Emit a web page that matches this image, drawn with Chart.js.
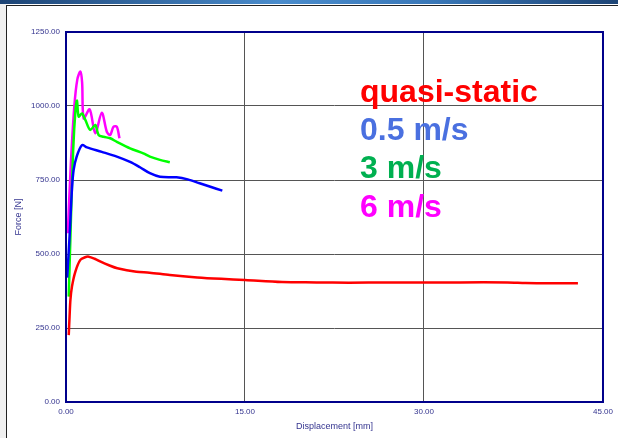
<!DOCTYPE html>
<html>
<head>
<meta charset="utf-8">
<script src="https://cdn.jsdelivr.net/npm/chart.js@4"></script>
<style>
  html, body { margin: 0; padding: 0; background: #fff; }
  #wrap { position: relative; width: 618px; height: 438px; overflow: hidden; background: #fff; }
  #topbar { position: absolute; left: 0; top: 0; width: 618px; height: 4px;
    background: linear-gradient(to right, #1d4475, #4a8ccc 45%, #3a78b8 70%, #1d4475); }
  #topline { position: absolute; left: 6px; top: 5px; width: 612px; height: 1px; background: #222; }
  #sidebar { position: absolute; left: 0; top: 4px; width: 6px; height: 434px; background: #f0f0f0; }
  #sideline { position: absolute; left: 6px; top: 5px; width: 1px; height: 433px; background: #222; }
  #chartBox { position: absolute; left: 0; top: 0; width: 618px; height: 438px; }
</style>
</head>
<body>
<div id="wrap">
  <div id="topbar"></div>
  <div id="sidebar"></div>
  <div id="topline"></div>
  <div id="sideline"></div>
  <div id="chartBox"><canvas id="chart"></canvas></div>
</div>
<script>
// displacement [mm] / force [N] for each loading rate
const qsDisp = [0.23, 0.3, 0.37, 0.5, 0.78, 1.2, 1.6, 1.9, 2.4, 2.9, 3.6, 4.3, 5.9, 7.0, 8.7, 11, 13, 15, 18.1, 21, 23.7, 27, 30, 33, 37, 38.5, 40.4, 42.9];
const qsForce = [226, 290, 345, 390, 440, 480, 489, 491, 484, 474, 462, 452, 440, 437, 429, 421, 416, 412, 405, 404, 403, 404, 404, 404, 404, 402, 401, 401];

const v05Disp = [0.1, 0.3, 0.5, 0.64, 0.9, 1.34, 1.76, 3.0, 4.26, 5.37, 6.2, 7.03, 7.87, 9.26, 10.2, 11.2, 12.1, 13.1];
const v05Force = [420, 560, 720, 784, 830, 868, 860, 845, 829, 811, 793, 773, 761, 759, 752, 739, 727, 714];

const v3Disp = [0.23, 0.4, 0.6, 0.8, 0.92, 1.06, 1.34, 1.62, 2.03, 2.45, 2.73, 3.14, 3.7, 4.26, 5.37, 6.48, 7.03, 7.87, 8.7];
const v3Force = [356, 600, 850, 990, 1018, 964, 975, 953, 919, 936, 902, 896, 891, 879, 857, 840, 829, 818, 810];

const v6Disp = [0.15, 0.4, 0.7, 0.95, 1.2, 1.35, 1.48, 1.98, 2.45, 3.0, 3.42, 3.7, 3.98, 4.26, 4.48];
const v6Force = [570, 800, 1000, 1090, 1116, 1080, 958, 989, 908, 977, 913, 902, 930, 930, 891];

const xTicks = [0, 15, 30, 45];
const yTicks = [0, 250, 500, 750, 1000, 1250];

const seriesNames = ["quasi-static", "0.5 m/s", "3 m/s", "6 m/s"];
const lineColors = ["#ff0000", "#0000ff", "#00ff00", "#ff00ff"];
const labelColors = ["#ff0000", "#4a70e0", "#00b050", "#ff00ff"];

const toPoints = (xs, ys) => xs.map((x, i) => ({ x: x, y: ys[i] }));

const axisBlue = "#34348f";

// navy frame round the plot area and the big coloured legend text
const framePlugin = {
  id: "frame",
  afterDatasetsDraw(chart) {
    const { ctx, chartArea } = chart;
    ctx.save();
    ctx.strokeStyle = "#00008b";
    ctx.lineWidth = 2;
    ctx.strokeRect(chartArea.left, chartArea.top, chartArea.right - chartArea.left, chartArea.bottom - chartArea.top);
    ctx.font = "bold 32px 'Liberation Sans', Arial, sans-serif";
    ctx.textBaseline = "alphabetic";
    ctx.textAlign = "left";
    const base = [102, 140, 178, 217];
    seriesNames.forEach((name, i) => {
      ctx.fillStyle = labelColors[i];
      ctx.fillText(name, 360, base[i]);
    });
    ctx.restore();
  }
};

const ctx = document.getElementById("chart").getContext("2d");
new Chart(ctx, {
  type: "line",
  data: {
    datasets: [
      { label: seriesNames[0], data: toPoints(qsDisp, qsForce), borderColor: lineColors[0] },
      { label: seriesNames[1], data: toPoints(v05Disp, v05Force), borderColor: lineColors[1] },
      { label: seriesNames[2], data: toPoints(v3Disp, v3Force), borderColor: lineColors[2] },
      { label: seriesNames[3], data: toPoints(v6Disp, v6Force), borderColor: lineColors[3] },
    ],
  },
  options: {
    responsive: true,
    maintainAspectRatio: false,
    animation: false,
    layout: { padding: { left: 0, top: 32, right: 12, bottom: 0 } },
    elements: {
      point: { radius: 0 },
      line: { borderWidth: 2.5, tension: 0.3, fill: false },
    },
    plugins: {
      legend: { display: false },
      tooltip: { enabled: false },
    },
    scales: {
      x: {
        type: "linear",
        min: 0,
        max: 45,
        afterBuildTicks: (scale) => { scale.ticks = xTicks.map((v) => ({ value: v })); },
        afterFit: (scale) => { scale.height = 36; },
        ticks: {
          padding: 5,
          color: axisBlue,
          font: { family: "'Liberation Sans', Arial, sans-serif", size: 8 },
          callback: (v) => v.toFixed(2),
        },
        grid: { color: "#555", lineWidth: 1, drawTicks: false },
        border: { display: false },
        title: {
          display: true,
          text: "Displacement [mm]",
          color: axisBlue,
          font: { family: "'Liberation Sans', Arial, sans-serif", size: 9 },
          padding: { top: 0, bottom: 6 },
        },
      },
      y: {
        type: "linear",
        min: 0,
        max: 1250,
        afterBuildTicks: (scale) => { scale.ticks = yTicks.map((v) => ({ value: v })); },
        afterFit: (scale) => { scale.width = 66; },
        ticks: {
          padding: 6,
          color: axisBlue,
          font: { family: "'Liberation Sans', Arial, sans-serif", size: 8 },
          callback: (v) => v.toFixed(2),
        },
        grid: { color: "#555", lineWidth: 1, drawTicks: false },
        border: { display: false },
        title: {
          display: true,
          text: "Force [N]",
          color: axisBlue,
          font: { family: "'Liberation Sans', Arial, sans-serif", size: 9 },
          padding: { top: 13, bottom: 0 },
        },
      },
    },
  },
  plugins: [framePlugin],
});
</script>
</body>
</html>
